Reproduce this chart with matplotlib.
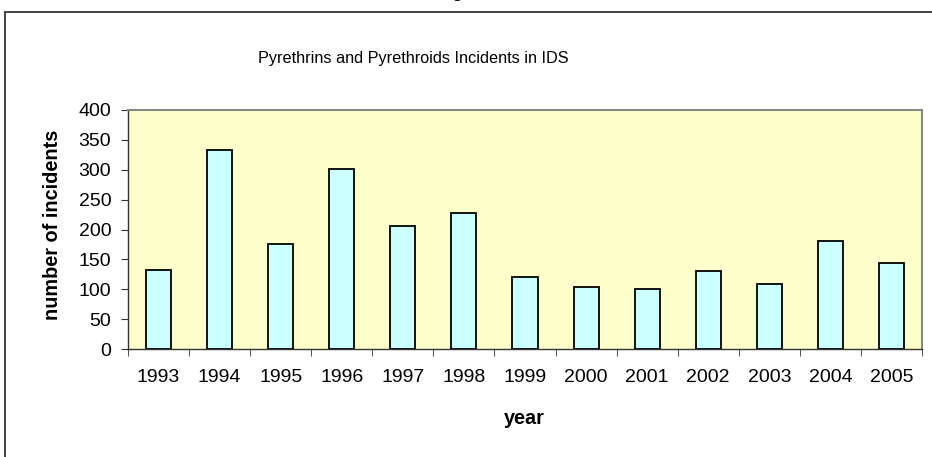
import numpy as np
import matplotlib.pyplot as plt
from matplotlib.patches import Rectangle

plt.rcParams['font.family'] = ['Liberation Sans', 'DejaVu Sans']

years = ["1993", "1994", "1995", "1996", "1997", "1998", "1999",
         "2000", "2001", "2002", "2003", "2004", "2005"]
incidents = [133, 333, 176, 302, 206, 228, 120, 103, 101, 131, 109, 180, 144]
yticks = [0, 50, 100, 150, 200, 250, 300, 350, 400]

W, H = 932, 457
fig = plt.figure(figsize=(W / 100, H / 100), dpi=100)

# outer chart frame (runs off the right and bottom edges)
fig.patches.append(Rectangle((5 / W, -0.05), 1.0, (H - 12) / H + 0.05,
                             transform=fig.transFigure, fill=False,
                             edgecolor="#333333", linewidth=1.3))
# clipped caption glyph at the very top
fig.text(457 / W, 1.006, "g", ha="center", va="baseline",
         fontsize=13, fontweight="bold")

ax = fig.add_axes([128 / W, (H - 349) / H, 794 / W, 239 / H])
ax.set_facecolor("#FFFFCC")

x = np.arange(len(years))
ax.bar(x, incidents, width=0.41, color="#CCFFFF", edgecolor="black",
       linewidth=1.3, zorder=3)

ax.set_xlim(-0.5, len(years) - 0.5)
ax.set_ylim(0, 400)
ax.set_yticks(yticks)
ax.set_xticks(x)
ax.set_xticklabels(years)
ax.set_xticks(np.arange(len(years) + 1) - 0.5, minor=True)
ax.tick_params(axis="x", which="major", length=0, pad=14.5, labelsize=14)
ax.tick_params(axis="x", which="minor", length=5, direction="out",
               color="#333333")
ax.tick_params(axis="y", length=5, direction="out", labelsize=14,
               color="#333333", pad=7)

for side in ("top", "right"):
    ax.spines[side].set_color("#888888")
    ax.spines[side].set_linewidth(1.5)
for side in ("left", "bottom"):
    ax.spines[side].set_color("#333333")
    ax.spines[side].set_linewidth(1.0)

fig.text(524.5 / W, (H - 418) / H, "year", ha="center", va="center",
         fontsize=14.3, fontweight="bold")
fig.text(53 / W, (H - 225) / H, "number of incidents", ha="center",
         va="center", rotation=90, fontsize=14.3, fontweight="bold")

fig.text(413 / W, (H - 59) / H,
         "Pyrethrins and Pyrethroids Incidents in IDS",
         ha="center", va="center", fontsize=11.7)

fig.savefig("out.png", dpi=100)
